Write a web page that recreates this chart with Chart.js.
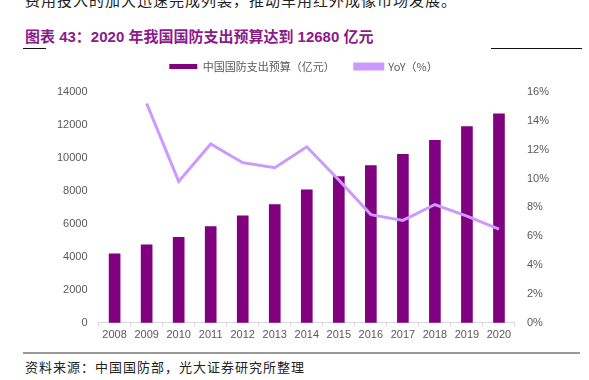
<!DOCTYPE html>
<html>
<head>
<meta charset="utf-8">
<script src="https://cdn.jsdelivr.net/npm/chart.js@4/dist/chart.umd.min.js"></script>
<style>
  html,body{margin:0;padding:0;background:#fff;width:589px;height:380px;overflow:hidden;position:relative;font-family:"Liberation Sans",Arial,sans-serif;}
  .top{position:absolute;left:25px;top:-11px;font-family:"Noto Sans CJK SC",sans-serif;font-size:15px;color:#222;white-space:nowrap;letter-spacing:1px;}
  .title{position:absolute;left:25px;top:25px;font-family:"Liberation Sans","Noto Sans CJK SC",sans-serif;font-weight:bold;font-size:15px;color:#8B1A8B;white-space:nowrap;}
  .ln{position:absolute;height:1px;background:#111;top:48px;}
  .bot{position:absolute;left:23px;width:557px;top:352px;height:2px;background:#999;}
  .src{position:absolute;left:25px;top:357px;font-family:"Noto Sans CJK SC",sans-serif;font-size:13px;color:#222;white-space:nowrap;letter-spacing:1px;}
  #wrap{position:absolute;left:0;top:41px;width:589px;height:303px;}
</style>
</head>
<body>
<div class="top">费用投入的加大迅速完成列装，推动车用红外成像市场发展。</div>
<div class="title">图表 43：2020 年我国国防支出预算达到 12680 亿元</div>
<div class="ln" style="left:23px;width:23px"></div>
<div class="ln" style="left:491px;width:91px"></div>
<div id="wrap"><canvas id="c"></canvas></div>
<div class="bot"></div>
<div class="src">资料来源：中国国防部，光大证券研究所整理</div>
<script>
const years = ["2008","2009","2010","2011","2012","2013","2014","2015","2016","2017","2018","2019","2020"];
const budget = [4178, 4730, 5190, 5840, 6490, 7170, 8060, 8870, 9540, 10220, 11070, 11900, 12680];
const yoy = [null, 15.2, 9.8, 12.4, 11.1, 10.75, 12.2, 9.9, 7.5, 7.1, 8.2, 7.4, 6.5];
const leftTicks = [0,2000,4000,6000,8000,10000,12000,14000];
const rightTicks = [0,2,4,6,8,10,12,14,16];

const legendMargin = {
  id:'legendMargin',
  beforeInit(chart){
    const fit = chart.legend.fit;
    chart.legend.fit = function(){ fit.bind(chart.legend)(); this.height += 10; };
  }
};

new Chart(document.getElementById('c'), {
  data: {
    labels: years,
    datasets: [
      {type:'bar', label:'中国国防支出预算（亿元）', data: budget, backgroundColor:'#800080', borderWidth:0, barThickness:11, yAxisID:'y', order:2},
      {type:'line', label:'YoY（%）', data: yoy, borderColor:'#CC99FF', backgroundColor:'#CC99FF', borderWidth:3, pointRadius:0, tension:0, yAxisID:'y1', order:1, spanGaps:false}
    ]
  },
  options: {
    responsive:true, maintainAspectRatio:false, animation:false,
    layout:{padding:{left:46,right:28,top:0,bottom:0}},
    plugins:{
      legend:{display:true, position:'top',
        labels:{boxWidth:28, boxHeight:5, color:'#595959', font:{family:"'Noto Sans CJK SC','Liberation Sans',sans-serif", size:11}, padding:20,
          sort:(a,b)=>a.datasetIndex-b.datasetIndex}},
      tooltip:{enabled:false}
    },
    scales:{
      x:{grid:{display:true, drawOnChartArea:false, offset:true, tickLength:4, color:'#D9D9D9'}, border:{display:true, color:'#D9D9D9'},
         ticks:{color:'#595959', font:{family:"'Liberation Sans',Arial", size:11}, padding:2, maxRotation:0}},
      y:{position:'left', min:0, max:14000, grid:{display:false, drawTicks:false}, border:{display:false},
         afterBuildTicks:(s)=>{s.ticks = leftTicks.map(v=>({value:v}));},
         ticks:{color:'#595959', font:{family:"'Liberation Sans',Arial", size:11}, padding:11, callback:(v)=>String(v)}},
      y1:{position:'right', min:0, max:16, grid:{display:false, drawTicks:false}, border:{display:false},
         afterBuildTicks:(s)=>{s.ticks = rightTicks.map(v=>({value:v}));},
         ticks:{color:'#595959', font:{family:"'Liberation Sans',Arial", size:11}, padding:12, callback:(v)=>v+'%'}}
    }
  },
  plugins:[legendMargin]
});
</script>
</body>
</html>
